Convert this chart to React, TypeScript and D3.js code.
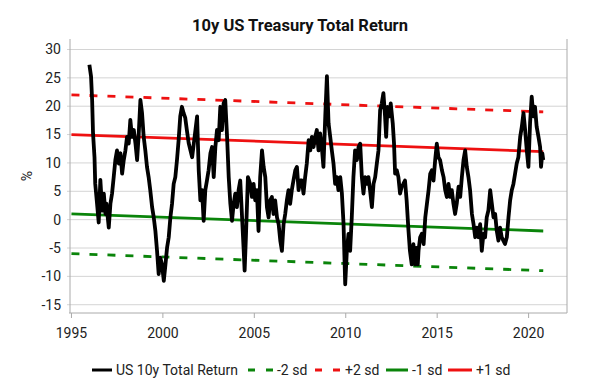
import React from 'react'
import * as d3 from 'd3'

// US 10y total return (decimal years)
const dates = [
  1995.98, 1996.07, 1996.13, 1996.18, 1996.26, 1996.3, 1996.4, 1996.49, 1996.58, 1996.68, 1996.77, 1996.86, 1996.91,
  1997.04, 1997.13, 1997.22, 1997.31, 1997.4, 1997.49, 1997.59, 1997.68, 1997.77, 1997.86, 1997.95,
  1998.04, 1998.13, 1998.22, 1998.31, 1998.41, 1998.5, 1998.59, 1998.68, 1998.77, 1998.86, 1998.95,
  1999.04, 1999.13, 1999.22, 1999.31, 1999.41, 1999.5, 1999.59, 1999.68, 1999.77, 1999.86, 1999.95,
  2000.05, 2000.14, 2000.23, 2000.32, 2000.41, 2000.5, 2000.59, 2000.68, 2000.77, 2000.86, 2000.95,
  2001.04, 2001.13, 2001.22, 2001.31, 2001.41, 2001.6, 2001.69, 2001.87, 2001.96,
  2002.05, 2002.14, 2002.23, 2002.32, 2002.41, 2002.5, 2002.6, 2002.69, 2002.78, 2002.87, 2002.96,
  2003.05, 2003.14, 2003.23, 2003.32, 2003.41, 2003.51, 2003.6, 2003.69, 2003.78, 2003.87, 2003.96,
  2004.05, 2004.14, 2004.23, 2004.33, 2004.42, 2004.47, 2004.54, 2004.65, 2004.78, 2004.87, 2004.96,
  2005.05, 2005.14, 2005.23, 2005.32, 2005.42, 2005.51, 2005.6, 2005.69, 2005.78, 2005.87, 2005.96,
  2006.05, 2006.14, 2006.24, 2006.33, 2006.42, 2006.51, 2006.6, 2006.69, 2006.78, 2006.87, 2006.96,
  2007.05, 2007.14, 2007.24, 2007.33, 2007.42, 2007.51, 2007.6, 2007.69, 2007.78, 2007.87, 2007.97,
  2008.06, 2008.15, 2008.24, 2008.33, 2008.42, 2008.51, 2008.6, 2008.69, 2008.78, 2008.88, 2008.97,
  2009.06, 2009.15, 2009.24, 2009.33, 2009.42, 2009.51, 2009.6, 2009.7, 2009.79, 2009.88, 2009.97,
  2010.06, 2010.15, 2010.24, 2010.33, 2010.42, 2010.51, 2010.61, 2010.7, 2010.79, 2010.88, 2010.97,
  2011.06, 2011.15, 2011.24, 2011.33, 2011.43, 2011.52, 2011.61, 2011.7, 2011.79, 2011.88, 2011.97,
  2012.06, 2012.15, 2012.21, 2012.28, 2012.39, 2012.46, 2012.57, 2012.64, 2012.7, 2012.79, 2012.88, 2012.97,
  2013.06, 2013.15, 2013.24, 2013.33, 2013.42, 2013.51, 2013.61, 2013.7, 2013.79, 2013.86, 2013.94,
  2013.98, 2014.07, 2014.16, 2014.26, 2014.35, 2014.44, 2014.53, 2014.62, 2014.71, 2014.8, 2014.89, 2014.98,
  2015.07, 2015.16, 2015.26, 2015.35, 2015.44, 2015.53, 2015.62, 2015.71, 2015.8, 2015.89, 2015.98,
  2016.07, 2016.17, 2016.26, 2016.35, 2016.44, 2016.53, 2016.62, 2016.71, 2016.8, 2016.9, 2016.99,
  2017.08, 2017.17, 2017.26, 2017.35, 2017.44, 2017.53, 2017.62, 2017.71, 2017.8, 2017.9, 2017.99,
  2018.08, 2018.17, 2018.26, 2018.35, 2018.44, 2018.53, 2018.62, 2018.71, 2018.81, 2018.9, 2018.99,
  2019.08, 2019.17, 2019.26, 2019.35, 2019.44, 2019.54, 2019.63, 2019.72, 2019.81, 2019.9, 2019.99,
  2020.08, 2020.17, 2020.26, 2020.35, 2020.44, 2020.54, 2020.63, 2020.68, 2020.75, 2020.8,
]
const totalReturn = [
  27.3, 25.3, 21.1, 15.2, 11, 6.3, 2.8, -0.5, 7, 1.6, 4.6, 1, 2.8,
  -1.4, 2.8, 4.6, 7.5, 10.5, 12.2, 9.9, 11.7, 8.1, 10.5, 12.2,
  14.6, 13.4, 17.6, 14.6, 15.8, 13.4, 10.5, 15.2, 21.1, 18.8, 14.6,
  12.2, 9.3, 7.5, 5.2, 2.2, 0.4, -2, -5.5, -9.6, -6.7, -7.9,
  -10.8, -7.9, -4.9, -3.1, 0.4, 2.8, 6.3, 7.5, 10.5, 14, 18.2,
  19.9, 18.8, 18, 15.8, 13.5, 11, 13.4, 18.2, 8.7,
  3.4, 5.2, -0.2, 5.2, 6.9, 8.7, 11.7, 12.8, 7.5, 12.8, 15.8,
  14, 19.9, 15.8, 20.5, 21.1, 14.6, 7.5, 2.8, -0.2, 2.8, 4.6,
  2.2, 5.2, 6.9, 0.4, -5.5, -9, -3.1, 7.5, 6.3, 4, 6.3,
  3.4, 5.2, -2, 7.5, 12.2, 9.3, 7.5, 2.2, 0.4, 3.4, 4,
  1, 3.4, 0.4, -0.8, -3.7, -5.5, -0.8, 1, 3.4, 5.2, 2.8,
  5.2, 6.9, 8.7, 9.3, 5.2, 6.9, 6.9, 4.6, 7.5, 9.9, 14,
  12.2, 14.6, 12.8, 14.6, 15.8, 12.2, 15.2, 12.8, 9.3, 18.2, 25.3,
  17, 14.6, 12.2, 9.9, 6.3, 7.5, 5.2, 7.5, 4.6, -0.8, -11.4,
  -5.5, -2.5, -5.5, 0.4, 7.5, 12.2, 10.5, 12.8, 13.4, 7.5, 4.6,
  7.5, 6.3, 7.5, 5.2, 2.2, 6.3, 7.5, 9.9, 12.2, 19.3, 20.5,
  22.3, 18.2, 14.6, 19.9, 18.2, 20.5, 17, 13.4, 8.1, 8.7, 7.5, 4.6,
  5.8, 6.3, 6.9, 3.4, -1.4, -5.5, -7.9, -4.3, -7.9, -5, -7.9,
  -5.5, -3.1, -2.5, -4.3, 0.4, 2.8, 5.2, 8.1, 8.7, 6.9, 10.5, 13.4,
  11, 10.5, 8.7, 7.5, 5.2, 4, 6.3, 4, 5.2, 2.8, 1,
  2.8, 5.8, 4, 7.5, 10.5, 12.2, 9.3, 7.5, 5.2, 1, -0.8,
  -3.1, -1.4, -3.1, -0.8, -5.5, -2.5, -3.1, 0.4, 1.6, 5.2, 2.8,
  0.4, 1, -2, -3.7, -1.4, -3.1, -3.7, -4.3, -3.1, 0.4, 3.4,
  5.2, 6.3, 8.1, 9.9, 11, 14.6, 16.4, 18.8, 15.8, 12.2, 9.3,
  17, 21.7, 18.2, 19.9, 16.4, 14.6, 12.8, 9.3, 11.7, 10.5,
]

// band lines: value at start and at end of the period
const bandDates = [1995, 2020.8]
const minus2sd = [-6, -9]
const plus2sd = [22, 19]
const minus1sd = [1, -2]
const plus1sd = [15, 12]

const yTicks = [30, 25, 20, 15, 10, 5, 0, -5, -10, -15]
const xTicks = [1995, 2000, 2005, 2010, 2015, 2020]

const W = 598
const H = 389
const margin = { top: 39, right: 31, bottom: 76, left: 70 }
const font = 'Roboto, "Noto Sans", sans-serif'

const bands = [
  { name: '-2 sd', values: minus2sd, color: '#0a840a', dash: '8,10' },
  { name: '+2 sd', values: plus2sd, color: '#ee1111', dash: '8,10' },
  { name: '-1 sd', values: minus1sd, color: '#0a840a', dash: null },
  { name: '+1 sd', values: plus1sd, color: '#ee1111', dash: null },
]

const legend = [
  { name: 'US 10y Total Return', color: '#000', dash: null, x0: 92, x1: 112, tx: 116 },
  { name: '-2 sd', color: '#0a840a', dash: '7,11', x0: 248, x1: 273, tx: 277 },
  { name: '+2 sd', color: '#ee1111', dash: '7,11', x0: 315, x1: 340, tx: 345 },
  { name: '-1 sd', color: '#0a840a', dash: null, x0: 386, x1: 408, tx: 412 },
  { name: '+1 sd', color: '#ee1111', dash: null, x0: 448, x1: 472, tx: 476 },
]

export default function App() {
  const x = d3.scaleLinear().domain([1994.92, 2022.1]).range([margin.left, W - margin.right])
  const y = d3.scaleLinear().domain([31.85, -16.46]).range([margin.top, H - margin.bottom])
  const bottom = H - margin.bottom
  const right = W - margin.right

  const line = d3.line<number>()
    .x((_, i) => x(dates[i]))
    .y(d => y(d))
  const bandLine = d3.line<number>()
    .x((_, i) => x(bandDates[i]))
    .y(d => y(d))

  return (
    <svg width={W} height={H} style={{ position: 'absolute', left: 0, top: 0, background: '#fff' }} fontFamily={font}>
      <text x={300} y={31} textAnchor='middle' fontSize={16.5} fontWeight='bold' fill='#111'>10y US Treasury Total Return</text>

      {/* grid */}
      {yTicks.map(t => (
        <g key={`y-${t}`}>
          <line x1={margin.left - 3} x2={right} y1={y(t)} y2={y(t)} stroke='#d4d4d4' strokeWidth={1} />
          <text x={61} y={y(t)} dy='0.35em' textAnchor='end' fontSize={14} fill='#222'>{t}</text>
        </g>
      ))}
      <line x1={margin.left} x2={margin.left} y1={margin.top} y2={bottom} stroke='#aaa' />
      <line x1={right} x2={right} y1={margin.top} y2={bottom} stroke='#aaa' />
      <line x1={margin.left - 1} x2={right} y1={bottom} y2={bottom} stroke='#aaa' />
      {xTicks.map(t => (
        <g key={`x-${t}`}>
          <line x1={x(t)} x2={x(t)} y1={bottom} y2={bottom + 5} stroke='#aaa' />
          <text x={x(t)} y={338} textAnchor='middle' fontSize={14} fill='#222'>{t}</text>
        </g>
      ))}

      <text transform={`translate(27,${(margin.top + bottom) / 2}) rotate(-90)`} textAnchor='middle' dy='0.35em' fontSize={14} fill='#222'>%</text>

      {bands.map(b => (
        <path key={b.name} d={bandLine(b.values) || ''} fill='none' stroke={b.color} strokeWidth={2.8}
          strokeDasharray={b.dash || undefined} />
      ))}
      <path d={line(totalReturn) || ''} fill='none' stroke='#000' strokeWidth={3.8} strokeLinejoin='round' />

      {legend.map(l => (
        <g key={`lg-${l.name}`}>
          <line x1={l.x0} x2={l.x1} y1={370} y2={370} stroke={l.color} strokeWidth={3} strokeDasharray={l.dash || undefined} />
          <text x={l.tx} y={370} dy='0.35em' fontSize={14} fill='#222'>{l.name}</text>
        </g>
      ))}
    </svg>
  )
}
